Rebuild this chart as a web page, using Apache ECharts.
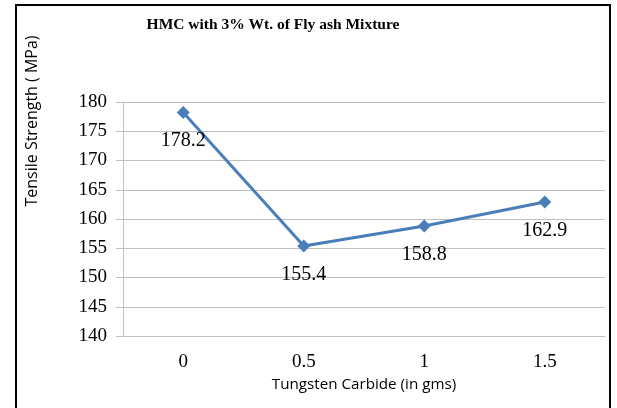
<!DOCTYPE html>
<html><head><meta charset="utf-8">
<script src="https://cdn.jsdelivr.net/npm/echarts@6/dist/echarts.min.js"></script>
<style>html,body{margin:0;padding:0;background:#fff}#c{width:617px;height:408px}</style>
</head><body><div id="c"></div>
<script>
const categories = ['0', '0.5', '1', '1.5'];
const values = [178.2, 155.4, 158.8, 162.9];
const yTicks = [140, 145, 150, 155, 160, 165, 170, 175, 180];
const chart = echarts.init(document.getElementById('c'));
chart.setOption({
  animation: false,
  backgroundColor: '#fff',
  graphic: [
    {type: 'rect', shape: {x: 16, y: 5, width: 594, height: 410}, style: {fill: 'none', stroke: '#000', lineWidth: 2}, silent: true},
    {type: 'text', x: 273, y: 25,
     style: {text: 'HMC with 3% Wt. of Fly ash Mixture', fontFamily: 'Liberation Serif', fontWeight: 'bold', fontSize: 15.5, fill: '#000', align: 'center', verticalAlign: 'middle'}},
    {type: 'text', x: 32, y: 121, rotation: Math.PI / 2,
     style: {text: 'Tensile Strength ( MPa)', fontFamily: 'Open Sans', fontSize: 16, fill: '#000', align: 'center', verticalAlign: 'middle'}}
  ],
  grid: {left: 123, right: 12, top: 102, bottom: 72, containLabel: false},
  xAxis: {
    type: 'category', data: categories, boundaryGap: true,
    axisLine: {show: true, lineStyle: {color: '#bfbfbf', width: 1}},
    axisTick: {show: false},
    axisLabel: {fontFamily: 'Liberation Serif', fontSize: 19, color: '#000', margin: 17},
    name: 'Tungsten Carbide (in gms)', nameLocation: 'middle', nameGap: 40,
    nameTextStyle: {fontFamily: 'Open Sans', fontSize: 15.2, color: '#000'}
  },
  yAxis: {
    type: 'value', min: yTicks[0], max: yTicks[yTicks.length - 1], interval: 5,
    axisLine: {show: true, lineStyle: {color: '#bfbfbf', width: 1}},
    axisTick: {show: true, length: 7, inside: false, lineStyle: {color: '#bfbfbf'}},
    axisLabel: {fontFamily: 'Liberation Serif', fontSize: 19, color: '#000', margin: 16},
    splitLine: {show: true, lineStyle: {color: '#bfbfbf', width: 1}}
  },
  series: [{
    type: 'line', data: values,
    symbol: 'diamond', symbolSize: 13,
    lineStyle: {color: '#4a7ebb', width: 3},
    itemStyle: {color: '#4a7ebb'},
    label: {show: true, position: 'bottom', distance: 12, fontFamily: 'Liberation Serif', fontSize: 20, color: '#000',
            formatter: p => p.value.toFixed(1)}
  }]
});
</script></body></html>
